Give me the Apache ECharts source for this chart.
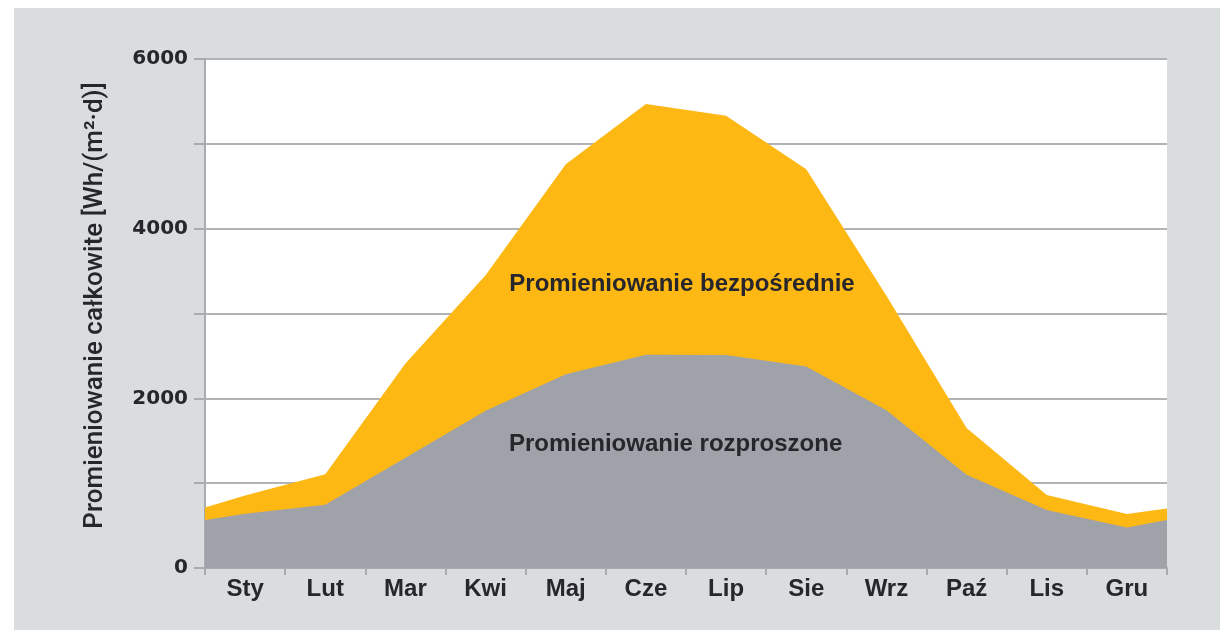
<!DOCTYPE html>
<html>
<head>
<meta charset="utf-8">
<script src="https://cdn.jsdelivr.net/npm/echarts@6/dist/echarts.min.js"></script>
<style>
  html, body { margin: 0; padding: 0; background: #ffffff; }
  #chart { position: absolute; left: 14px; top: 8px; width: 1206px; height: 622px; }
</style>
</head>
<body>
<div id="chart"></div>
<script>
// Month categories (x-axis labels)
const months = ['Sty', 'Lut', 'Mar', 'Kwi', 'Maj', 'Cze', 'Lip', 'Sie', 'Wrz', 'Paź', 'Lis', 'Gru'];
// Positions along the year (0 = start of January, 12 = end of December); points at month centres plus both edges
const xPos = [0, 0.5, 1.5, 2.5, 3.5, 4.5, 5.5, 6.5, 7.5, 8.5, 9.5, 10.5, 11.5, 12];
// Total radiation (top of the orange area), Wh/(m²·d)
const totalRad = [713, 855, 1105, 2410, 3450, 4760, 5470, 5330, 4700, 3210, 1650, 860, 636, 700];
// Diffuse radiation (grey area), Wh/(m²·d)
const diffuseRad = [566, 640, 745, 1300, 1855, 2285, 2515, 2510, 2375, 1860, 1100, 684, 478, 565];
// Y-axis ticks
const yMin = 0, yMax = 6000, yStep = 1000, yLabelStep = 2000;
const yName = 'Promieniowanie całkowite [Wh/(m²·d)]';
const labelDirect = 'Promieniowanie bezpośrednie';
const labelDiffuse = 'Promieniowanie rozproszone';

const zip = (xs, ys) => xs.map((x, i) => [x, ys[i]]);

const axisGray = '#a9abae';
const textDark = '#26262c';

const chart = echarts.init(document.getElementById('chart'), null, { renderer: 'canvas' });
chart.setOption({
  backgroundColor: '#d9dddd',
  animation: false,
  grid: {
    left: 191, right: 53, top: 51, bottom: 62,
    show: true, backgroundColor: '#ffffff', borderWidth: 0
  },
  xAxis: [
    {
      type: 'category',
      data: months,
      boundaryGap: true,
      position: 'bottom',
      axisLine: { show: true, lineStyle: { color: axisGray, width: 2 } },
      axisTick: { show: true, length: 7, lineStyle: { color: axisGray, width: 2 } },
      axisLabel: {
        margin: 9,
        color: textDark,
        fontFamily: 'Liberation Sans',
        fontWeight: 'bold',
        fontSize: 24
      },
      splitLine: { show: false }
    },
    {
      type: 'value',
      min: 0, max: 12,
      show: false,
      splitLine: { show: false }
    }
  ],
  yAxis: {
    type: 'value',
    min: yMin, max: yMax, interval: yStep,
    name: yName,
    nameLocation: 'middle',
    nameGap: 97,
    nameRotate: 90,
    nameTextStyle: {
      color: textDark,
      fontFamily: 'Roboto',
      fontWeight: 500,
      fontSize: 26,
      padding: [0, 0, 0, 16]
    },
    axisLine: { show: true, lineStyle: { color: axisGray, width: 2 } },
    axisTick: { show: true, length: 11, lineStyle: { color: axisGray, width: 2 } },
    axisLabel: {
      margin: 17,
      color: textDark,
      fontFamily: 'DejaVu Sans',
      fontWeight: 'bold',
      fontSize: 20,
      formatter: v => (v % yLabelStep === 0 ? String(v) : '')
    },
    splitLine: { show: true, lineStyle: { color: '#b1b3b6', width: 2 } }
  },
  series: [
    {
      name: 'total',
      type: 'line',
      xAxisIndex: 1,
      data: zip(xPos, totalRad),
      symbol: 'none',
      lineStyle: { width: 0 },
      areaStyle: { color: '#fdb813', opacity: 1 },
      z: 2,
      markPoint: {
        symbol: 'circle', symbolSize: 0,
        itemStyle: { color: 'transparent' },
        label: {
          show: true, position: 'inside',
          color: textDark, fontFamily: 'Liberation Sans', fontWeight: 'bold', fontSize: 24
        },
        data: [{ coord: [5.95, 3340], value: labelDirect, label: { formatter: labelDirect } }]
      }
    },
    {
      name: 'diffuse',
      type: 'line',
      xAxisIndex: 1,
      data: zip(xPos, diffuseRad),
      symbol: 'none',
      lineStyle: { width: 0 },
      areaStyle: { color: '#a0a2a9', opacity: 1 },
      z: 3,
      markPoint: {
        symbol: 'circle', symbolSize: 0,
        itemStyle: { color: 'transparent' },
        label: {
          show: true, position: 'inside',
          color: textDark, fontFamily: 'Liberation Sans', fontWeight: 'bold', fontSize: 24
        },
        data: [{ coord: [5.87, 1460], value: labelDiffuse, label: { formatter: labelDiffuse } }]
      }
    }
  ]
});
</script>
</body>
</html>
